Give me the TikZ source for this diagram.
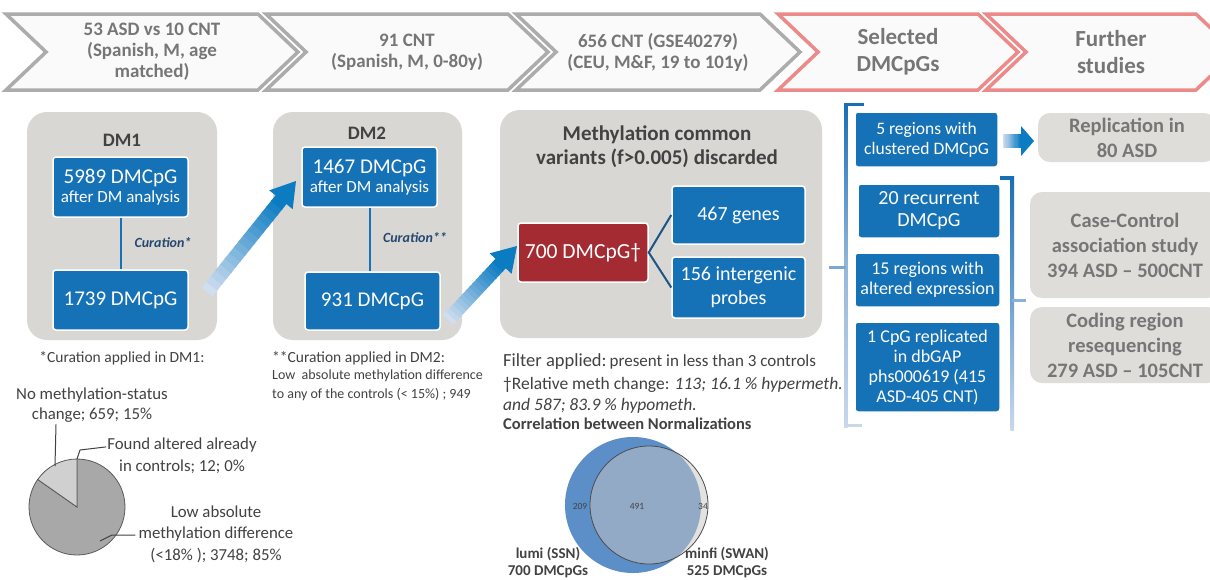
\documentclass[tikz,border=0pt]{standalone}
\usepackage{fontspec}
\setmainfont{Carlito}
\usetikzlibrary{calc,shapes.symbols}

\definecolor{boxblue}{RGB}{22,114,182}
\definecolor{boxred}{RGB}{164,43,50}
\definecolor{panelgray}{RGB}{217,215,212}
\definecolor{sidegray}{RGB}{223,221,218}
\definecolor{headgray}{RGB}{172,172,172}
\definecolor{headred}{RGB}{236,138,138}
\definecolor{headtext}{RGB}{118,118,118}
\definecolor{darktext}{RGB}{66,66,66}
\definecolor{curblue}{RGB}{38,72,112}
\definecolor{linkdark}{RGB}{26,86,136}
\definecolor{arrowlight}{RGB}{208,222,240}
\definecolor{arrowdark}{RGB}{12,124,194}
\definecolor{brkdark}{RGB}{24,110,180}
\definecolor{brklight}{RGB}{200,215,236}
\definecolor{venblue}{RGB}{92,142,200}
\definecolor{vengray}{RGB}{200,198,195}
\definecolor{piedark}{RGB}{168,168,168}
\definecolor{pielight}{RGB}{208,208,208}

\newcommand{\fs}[2]{\fontsize{#1}{#2}\selectfont}

% shaded arrow: from, to, body width, head length, half head width
\newcommand{\gradarrow}[5]{%
  \coordinate (hb) at ($(#2)!#4!(#1)$);
  \foreach \i in {0,...,15}{
    \pgfmathtruncatemacro\p{100-\i*100/15}
    \pgfmathsetmacro\a{\i/16}
    \pgfmathsetmacro\b{(\i+1.2)/16}
    \draw[line width=#3, arrowlight!\p!arrowdark] ($(#1)!\a!(hb)$) -- ($(#1)!\b!(hb)$);
  }
  \fill[arrowdark] ($(hb)!#5!90:(#2)$) -- (#2) -- ($(hb)!#5!-90:(#2)$) -- cycle;
}

\begin{document}
\begin{tikzpicture}[x=1pt, y=-1pt,
    chev/.style={signal, signal from=west, signal to=east, signal pointer angle=87,
      draw=headgray, line width=3.5pt, fill=white!96!gray, minimum height=76pt,
      text=headtext, font=\bfseries\fs{19}{21}, align=center, inner sep=0pt},
    panel/.style={fill=panelgray, rounded corners=20pt, inner sep=0pt},
    bluebox/.style={fill=boxblue, draw=white, line width=1.5pt, rounded corners=3pt,
      text=white, align=center, inner sep=1pt},
    sidebox/.style={fill=sidegray, rounded corners=12pt, text=headtext,
      font=\bfseries\fs{20.5}{25}, align=center, inner sep=0pt},
    note/.style={text=darktext, inner sep=0pt, align=center}]
  \useasboundingbox (0,0) rectangle (1210,579);
  \clip (0,0) rectangle (1210,579);
  \fill[white] (0,0) rectangle (1210,579);

  % header
  \node[chev, minimum width=292pt] (h1) at (152,52) {53 ASD vs 10 CNT\\(Spanish, M, age\\matched)};
  \node[chev, minimum width=282pt] (h2) at (407,52) {91 CNT\\(Spanish, M, 0-80y)};
  \node[chev, minimum width=284pt] (h3) at (658,52) {656 CNT (GSE40279)\\(CEU, M\&F, 19 to 101y)};
  \node[chev, draw=headred, minimum width=240pt, font=\bfseries\fs{23}{27}] (h4) at (898,52) {Selected\\DMCpGs};
  \node[chev, draw=headred, minimum width=250pt, font=\bfseries\fs{23}{27}] (h5) at (1111,52) {Further\\studies};

  % panels
  \node[panel, minimum width=190pt, minimum height=228pt] (dm1) at (122,226) {};
  \node[panel, minimum width=189pt, minimum height=228pt] (dm2) at (367.5,226) {};
  \node[panel, minimum width=322pt, minimum height=228pt] (meth) at (661,224) {};
  \node[note, font=\bfseries\fs{19}{22}] (t1) at (122,140) {DM1};
  \node[note, font=\bfseries\fs{19}{22}] (t2) at (367,133) {DM2};
  \node[note, font=\bfseries\fs{21}{24}] (t3) at (657,147) {Methylation common\\variants (f>0.005) discarded};

  \node[bluebox, minimum width=135pt, minimum height=60pt, font=\fs{17}{19}] (b1) at (120.5,187)
    {{\fs{21}{22}5989 DMCpG}\\after DM analysis};
  \node[bluebox, minimum width=135pt, minimum height=60pt, font=\fs{21}{24}] (b2) at (120.5,300) {1739 DMCpG};
  \node[bluebox, minimum width=135pt, minimum height=60pt, font=\fs{17}{19}] (b3) at (369.5,177)
    {{\fs{21}{22}1467 DMCpG}\\after DM analysis};
  \node[bluebox, minimum width=135pt, minimum height=58pt, font=\fs{21}{24}] (b4) at (372.5,301) {931 DMCpG};
  \node[bluebox, fill=boxred, minimum width=130pt, minimum height=59pt, font=\fs{21.5}{24}] (red) at (583,252.5) {700 DMCpG†};
  \node[bluebox, minimum width=133pt, minimum height=58pt, font=\fs{20}{24}] (genes) at (738.5,215) {467 genes};
  \node[bluebox, minimum width=133pt, minimum height=61pt, font=\fs{20}{24}] (probes) at (738.5,287.5) {156 intergenic\\probes};

  \draw[boxblue, line width=2pt] (b1) -- (b2);
  \draw[boxblue, line width=2pt] (b3.south) -- (b3.south |- b4.north);
  \node[note, text=curblue, font=\bfseries\itshape\fs{14}{16}] (c1) at (163,243) {Curation*};
  \node[note, text=curblue, font=\bfseries\itshape\fs{14}{16}] (c2) at (415,238) {Curation**};
  \draw[linkdark, line width=2pt] (genes.west) -- (red.east) -- (probes.west);

  \coordinate (a1s) at (207,292);
  \coordinate (a1e) at (296,181);
  \gradarrow{a1s}{a1e}{14pt}{24pt}{15pt}
  \coordinate (a2s) at (448,320);
  \coordinate (a2e) at (517,246);
  \gradarrow{a2s}{a2e}{14pt}{24pt}{15pt}

  % selected DMCpGs
  \node[bluebox, minimum width=143pt, minimum height=55pt, font=\fs{17.5}{20}] (r1) at (926.5,139.5) {5 regions with\\clustered DMCpG};
  \node[bluebox, minimum width=142pt, minimum height=54pt, font=\fs{20}{22}] (r2) at (929,211) {20 recurrent\\DMCpG};
  \node[bluebox, minimum width=145pt, minimum height=54pt, font=\fs{18}{20}] (r3) at (927.5,280) {15 regions with\\altered expression};
  \node[bluebox, minimum width=145pt, minimum height=90pt, font=\fs{18}{20}] (r4) at (927.5,367) {1 CpG replicated\\in dbGAP\\phs000619 (415\\ASD-405 CNT)};

  \shade[top color=brkdark, bottom color=brklight, middle color=brklight!70!brkdark] (844,104) rectangle (847.5,427);
  \fill[brkdark] (844,102.5) rectangle (864,106);
  \fill[brklight] (844,423.5) rectangle (862,427);
  \fill[brklight!55!brkdark] (829,265.5) rectangle (846,269);
  \shade[top color=brkdark, bottom color=brklight] (1010.5,176) rectangle (1014,430);
  \fill[brkdark] (1000,176) rectangle (1014,179.5);
  \fill[brklight!65!brkdark] (1012,298.5) rectangle (1026,302);

  % further studies
  \node[sidebox, minimum width=178pt, minimum height=49pt] (g1) at (1127,137.5) {Replication in\\80 ASD};
  \node[sidebox, minimum width=190pt, minimum height=106pt] (g2) at (1125,245) {Case-Control\\association study\\394 ASD – 500CNT};
  \node[sidebox, minimum width=190pt, minimum height=76pt] (g3) at (1125,345) {Coding region\\resequencing\\279 ASD – 105CNT};
  \coordinate (a3s) at (1003,141);
  \coordinate (a3e) at (1034,141);
  \gradarrow{a3s}{a3e}{14pt}{13pt}{15pt}

  % notes below DM1
  \node[note, font=\fs{15.5}{18}] (n1) at (122,358) {*Curation applied in DM1:};
  \coordinate (pc) at (77,507);
  \filldraw[fill=piedark, draw=gray!70!black, line width=0.8pt] (pc) -- ++(270:48) arc[start angle=270, end angle=575, radius=48] -- cycle;
  \filldraw[fill=pielight, draw=gray!70!black, line width=0.8pt] (pc) -- ++(215:48) arc[start angle=215, end angle=270, radius=48] -- cycle;
  \node[note, font=\fs{16.8}{20}] (p1) at (92,405) {No methylation-status\\change; 659; 15\%};
  \node[note, font=\fs{16.8}{22}] (p2) at (182,456) {Found altered already\\in controls; 12; 0\%};
  \node[note, font=\fs{16.8}{21.5}] (p3) at (216,534) {Low absolute\\methylation difference\\(<18\% ); 3748; 85\%};
  \draw[darktext, line width=1pt] ($(p1.south)+(-36,2)$) -- (55,466);
  \draw[darktext, line width=1pt] (77,459) -- (80,450) -- ($(p2.north west)+(-1,9)$);
  \draw[darktext, line width=1pt] (100,541) -- (112,535) -- ($(p3.west)+(-3,1)$);

  % notes below DM2
  \node[note, anchor=west, font=\fs{15.5}{18}] (n2) at (272,358) {**Curation applied in DM2:};
  \node[note, anchor=north west, align=left, font=\fs{14}{19}] (n3) at (272,370) {Low~ absolute methylation difference\\to any of the controls (< 15\%) ; 949};

  % notes below methylation panel
  \node[note, anchor=west, align=left] (n4) at (503,362) {{\fs{18.5}{20}Filter applied:} {\fs{17}{20}present in less than 3 controls}};
  \node[note, anchor=west, align=left, font=\fs{17.5}{20}] (n5) at (503,385) {†Relative meth change: \textit{113; 16.1 \% hypermeth.}};
  \node[note, anchor=west, align=left, font=\itshape\fs{17.5}{20}] (n6) at (503,406) {and 587; 83.9 \% hypometh.};
  \node[note, anchor=west, align=left, font=\bfseries\fs{16.5}{18}] (n7) at (503,424) {Correlation between Normalizations};

  % venn
  \node[circle, fill=venblue, minimum size=136pt, inner sep=0pt] (lumi) at (633,505) {};
  \node[circle, fill=vengray, fill opacity=0.5, draw=gray!60!black, line width=0.8pt, minimum size=118pt, inner sep=0pt] (minfi) at (649,505) {};
  \node[note, font=\fs{9.5}{11}] (v1) at (580,506) {209};
  \node[note, font=\fs{9.5}{11}] (v2) at (637,506) {491};
  \node[note, font=\fs{9.5}{11}] (v3) at (703,506) {34};
  \node[note, anchor=south, font=\bfseries\fs{15}{17}] (l1) at (548,578) {lumi (SSN)\\700 DMCpGs};
  \node[note, anchor=south, font=\bfseries\fs{15}{17}] (l2) at (727,578) {minfi (SWAN)\\525 DMCpGs};
\end{tikzpicture}
\end{document}
